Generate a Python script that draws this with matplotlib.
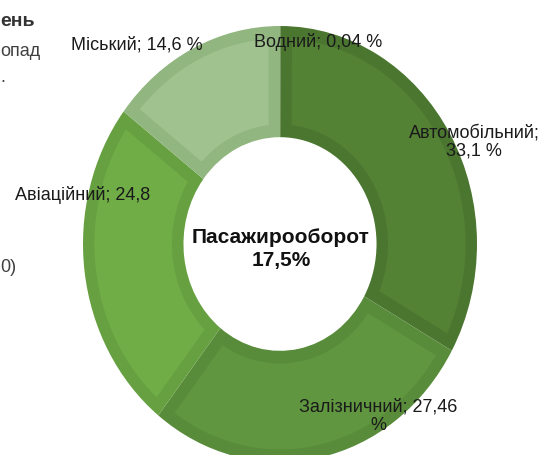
import matplotlib
matplotlib.use("Agg")
import matplotlib.pyplot as plt
import numpy as np
from matplotlib.patches import Polygon

plt.rcParams['font.family'] = ['Liberation Sans', 'DejaVu Sans']

categories = ["Водний", "Автомобільний", "Залізничний", "Авіаційний", "Міський"]
values = [0.04, 33.1, 27.46, 24.8, 14.6]
fills = ["#4f7d31", "#548235", "#5f963f", "#70ad47", "#a0c28e"]
borders = ["#4a7530", "#4b7630", "#588c3a", "#66a040", "#92b680"]

W, H = 552, 456
fig = plt.figure(figsize=(W / 100, H / 100), dpi=100)
ax = fig.add_axes([0, 0, 1, 1])

ring_w = 0.51
wedges, _ = ax.pie(values, startangle=90, counterclock=False,
                   colors=borders, radius=1.0,
                   wedgeprops=dict(width=ring_w, edgecolor="none", linewidth=0))

# inner (bevel-like) fill inset inside each wedge
d = 0.058
for w, fc in zip(wedges, fills):
    t1, t2 = w.theta1, w.theta2
    ro = w.r - d
    ri = w.r - w.width + d
    ao = np.degrees(np.arcsin(d / ro))
    ai = np.degrees(np.arcsin(d / ri))
    if (t2 - t1) <= 2 * ai:
        continue
    to = np.radians(np.linspace(t1 + ao, t2 - ao, 80))
    tin = np.radians(np.linspace(t2 - ai, t1 + ai, 80))
    xs = np.concatenate([ro * np.cos(to), ri * np.cos(tin)])
    ys = np.concatenate([ro * np.sin(to), ri * np.sin(tin)])
    ax.add_patch(Polygon(np.column_stack([xs, ys]), closed=True,
                         facecolor=fc, edgecolor='none'))

# pixel geometry of the (slightly stretched) ring
cx, cy, rx, ry = 280, 245, 197, 218
ax.set_aspect('auto')
ax.set_xlim((0 - cx) / rx, (W - cx) / rx)
ax.set_ylim((cy - H) / ry, (cy - 0) / ry)
ax.axis('off')

def ftext(x, y, s, **kw):
    fig.text(x / W, 1 - y / H, s, **kw)

lab = dict(fontsize=13, color="#1a1a1a", ha='center', va='center', linespacing=1.1)
ftext(137, 45, "Міський; 14,6 %", **lab)
ftext(318, 42, "Водний; 0,04 %", **lab)
ftext(474, 142, "Автомобільний;\n33,1 %", **lab)
ftext(83, 195, "Авіаційний; 24,8", **lab)
ftext(378, 416, "Залізничний; 27,46\n%", **lab)
ftext(281, 249, "Пасажирооборот\n17,5%", fontsize=15, fontweight='bold',
      color="#111111", ha='center', va='center', linespacing=1.25)

# fragments of neighbouring text at the left edge
ftext(0, 22, "ень", fontsize=14, fontweight='bold', color="#333333", ha='left', va='center')
ftext(0, 52, "опад", fontsize=13, color="#404040", ha='left', va='center')
ftext(0, 78, ".", fontsize=13, color="#404040", ha='left', va='center')
ftext(0, 268, "0)", fontsize=13, color="#404040", ha='left', va='center')

fig.savefig("out.png", dpi=100)
